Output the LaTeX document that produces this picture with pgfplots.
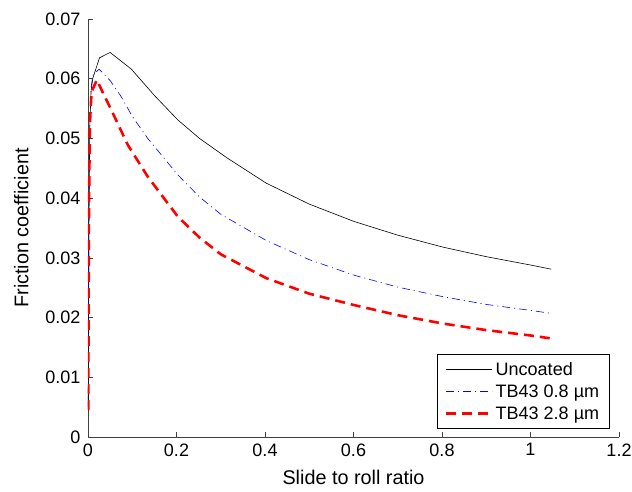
\documentclass[border=0pt]{standalone}
\usepackage{fontspec}
\setmainfont{Liberation Sans}
\usepackage{pgfplots}
\pgfplotsset{compat=1.18}
\newcommand{\ff}{\fontsize{18}{21}\selectfont}
\newcommand{\fl}{\fontsize{19.8}{23}\selectfont}
\begin{document}
\begin{tikzpicture}[x=1pt,y=1pt]
\begin{axis}[
  at={(0,0)}, anchor=south west,
  scale only axis, width=531pt, height=418pt,
  xmin=0, xmax=1.2, ymin=0, ymax=0.07,
  axis x line*=bottom, axis y line*=left,
  axis line style={black!75, line width=0.6pt},
  tick align=inside, major tick length=5pt,
  every tick/.style={black!75, line width=0.6pt},
  xtick={0,0.2,0.4,0.6,0.8,1,1.2},
  xticklabels={0,0.2,0.4,0.6,0.8,1,1.2},
  ytick={0,0.01,0.02,0.03,0.04,0.05,0.06,0.07},
  yticklabels={0,0.01,0.02,0.03,0.04,0.05,0.06,0.07},
  scaled y ticks=false,
  tick label style={font=\ff},
  /pgf/number format/assume math mode=true,
  xticklabel style={yshift=-3pt},
  yticklabel style={xshift=-4pt},
  label style={font=\fl},
  xlabel={Slide to roll ratio},
  ylabel={Friction coefficient},
  xlabel style={at={(axis description cs:0.5,0)}, anchor=north, yshift=-30pt},
  ylabel style={at={(axis description cs:0,0.5)}, anchor=south, xshift=0pt, yshift=56pt},
  legend style={font=\ff, at={(0.982,0.019)}, anchor=south east,
    draw=black, line width=0.6pt, inner xsep=8pt, inner ysep=6pt, row sep=4pt,
    cells={anchor=west}},
  legend cell align=left,
  legend image code/.code={\draw[#1] (0pt,0pt) -- (46pt,0pt);},
]
\addplot[black, line width=0.6pt] coordinates {
(0.0005,0.005)(0.002,0.035)(0.004,0.052)(0.007,0.058)(0.011,0.0601)(0.026,0.0635)(0.05,0.0644)(0.098,0.0616)(0.15,0.0572)(0.203,0.0531)(0.252,0.0500)(0.315,0.0467)(0.403,0.0425)(0.5,0.0390)(0.601,0.0361)(0.7,0.0338)(0.802,0.0318)(0.9,0.0302)(1.0,0.0288)(1.047,0.0281)};
\addlegendentry{Uncoated}
\addplot[blue, line width=0.6pt, dash pattern=on 8pt off 4pt on 1pt off 4pt] coordinates {
(0.0005,0.0045)(0.002,0.035)(0.004,0.052)(0.007,0.0585)(0.011,0.0606)(0.025,0.0616)(0.05,0.0597)(0.075,0.0570)(0.1,0.0537)(0.135,0.0500)(0.203,0.0439)(0.252,0.0402)(0.3,0.0373)(0.403,0.0329)(0.5,0.0297)(0.601,0.0271)(0.7,0.0251)(0.802,0.0235)(0.9,0.0222)(1.0,0.0212)(1.047,0.0207)};
\addlegendentry{TB43 0.8 µm}
\addplot[red, line width=2.6pt, dash pattern=on 10pt off 6pt] coordinates {
(0.0005,0.0045)(0.002,0.035)(0.004,0.052)(0.008,0.0578)(0.02,0.0598)(0.034,0.0576)(0.0525,0.0548)(0.09,0.0489)(0.135,0.0436)(0.203,0.0369)(0.252,0.0334)(0.3,0.0306)(0.403,0.0266)(0.5,0.0240)(0.601,0.0221)(0.7,0.0204)(0.802,0.0190)(0.9,0.0179)(1.0,0.0170)(1.047,0.0165)};
\addlegendentry{TB43 2.8 µm}
\end{axis}
\pgfresetboundingbox
\path[use as bounding box] (-88pt,-55pt) rectangle (544pt,437pt);
\end{tikzpicture}
\end{document}
